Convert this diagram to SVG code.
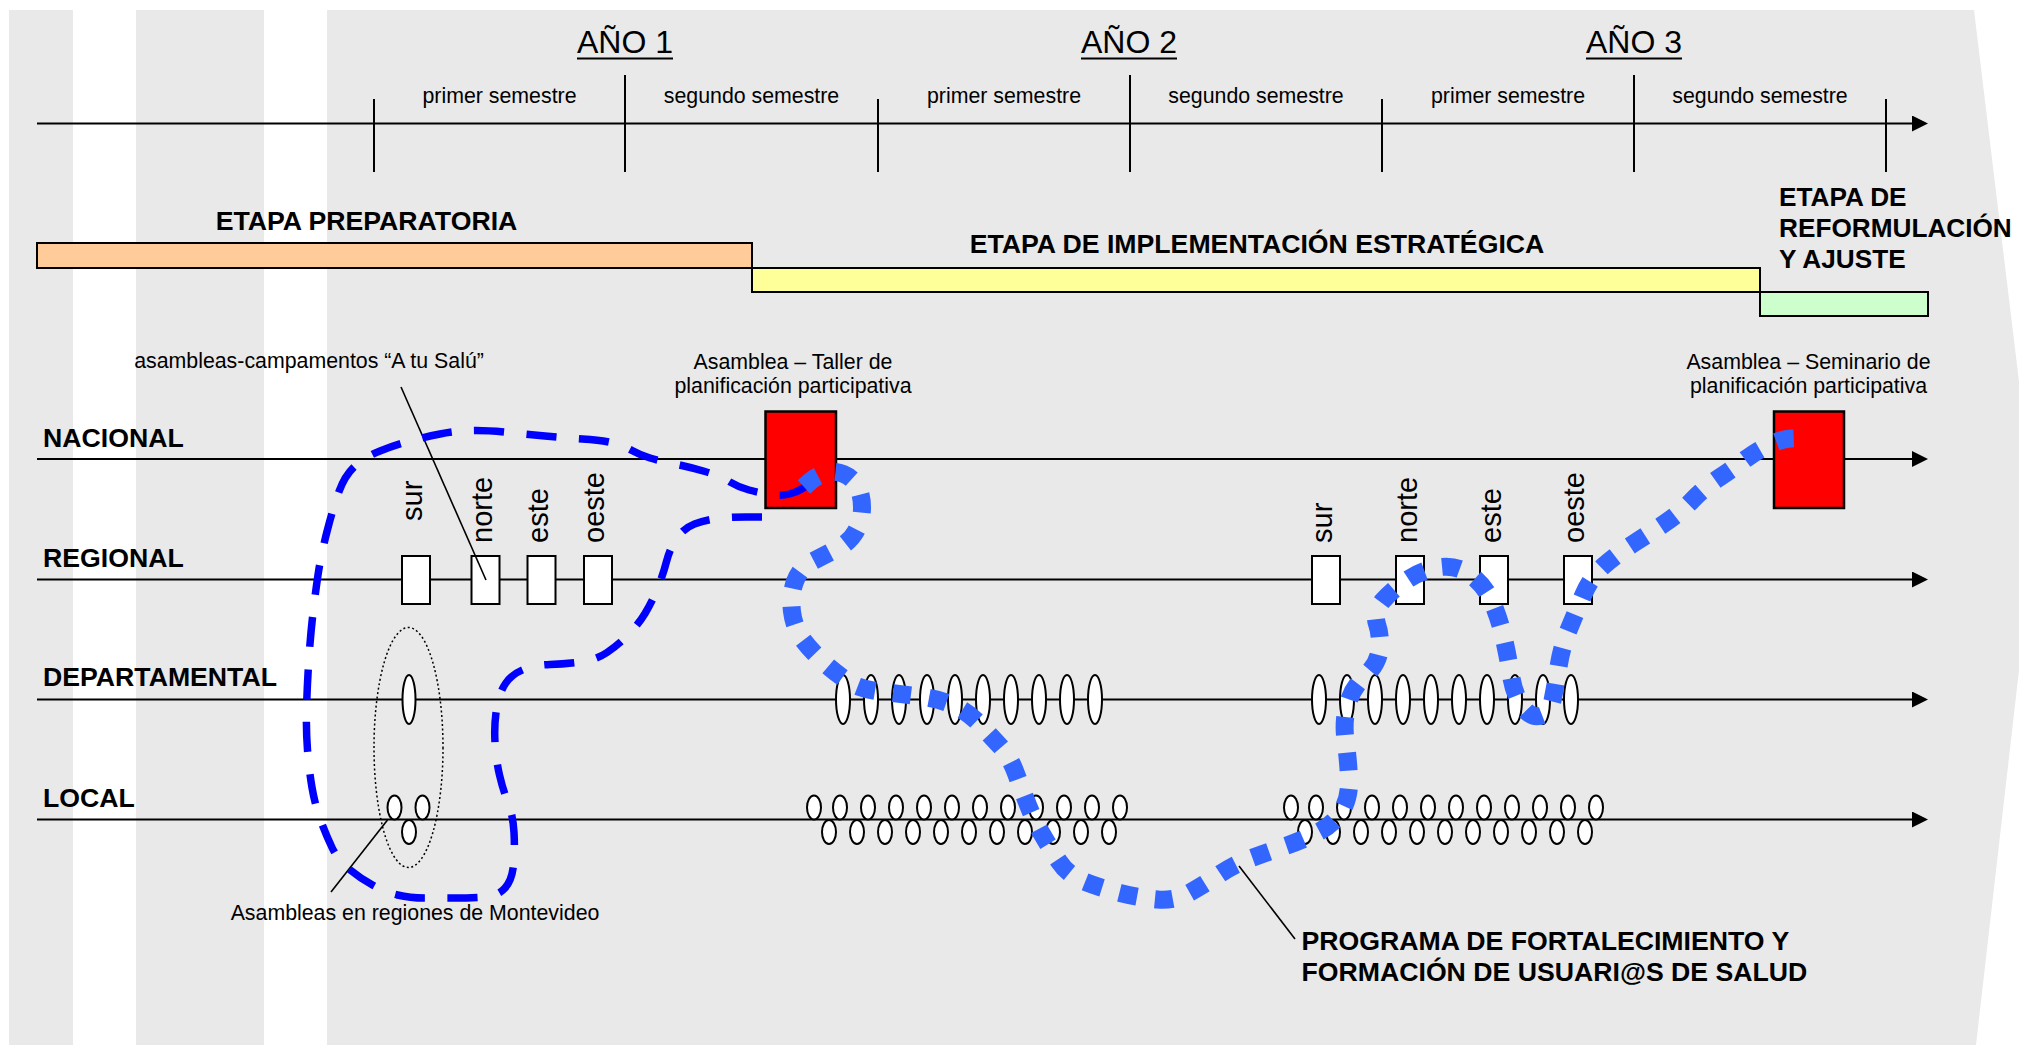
<svg xmlns="http://www.w3.org/2000/svg" width="2019" height="1045" viewBox="0 0 2019 1045">
<defs>
<marker id="arr" viewBox="0 0 16 16" markerWidth="16" markerHeight="16" refX="1" refY="8" orient="auto" markerUnits="userSpaceOnUse"><path d="M0,0 L16,8 L0,16 Z" fill="#000"/></marker>
</defs>
<style>
text{font-family:"Liberation Sans",Arial,sans-serif;fill:#000}
.reg{font-size:21.33px}
.yr{font-size:32px}
.b{font-size:26.67px;font-weight:bold}
.rot{font-size:29px}
.ax{stroke:#000;stroke-width:2.2;fill:none}
.tick{stroke:#000;stroke-width:2}
.bar{stroke:#000;stroke-width:2}
.box{fill:#fff;stroke:#000;stroke-width:2}
.ell{fill:#fff;stroke:#000;stroke-width:2}
.red{fill:#FF0000;stroke:#000;stroke-width:2.5}
.lead{stroke:#000;stroke-width:1.6;fill:none}
.dk{fill:none;stroke:#0000FF;stroke-width:7.5;stroke-dasharray:30 22.5}
.lt{fill:none;stroke:#3366FF;stroke-width:18;stroke-dasharray:18 18}
</style>
<g id="background">
<polygon points="9,10 1974,10 2036,522 1976,1045 9,1045" fill="#E9E9E9"/>
<rect x="73" y="10" width="63" height="1035" fill="#fff"/>
<rect x="264" y="10" width="63" height="1035" fill="#fff"/>
</g>
<g id="timeline">
<line class="ax" x1="37" y1="123.5" x2="1913" y2="123.5" marker-end="url(#arr)"/>
<line class="tick" x1="374" y1="99" x2="374" y2="172"/>
<line class="tick" x1="625" y1="75" x2="625" y2="172"/>
<line class="tick" x1="878" y1="99" x2="878" y2="172"/>
<line class="tick" x1="1130" y1="75" x2="1130" y2="172"/>
<line class="tick" x1="1382" y1="99" x2="1382" y2="172"/>
<line class="tick" x1="1634" y1="75" x2="1634" y2="172"/>
<line class="tick" x1="1886" y1="99" x2="1886" y2="172"/>
<text class="yr" x="625" y="53" text-anchor="middle">AÑO 1</text>
<text class="yr" x="1129" y="53" text-anchor="middle">AÑO 2</text>
<text class="yr" x="1634" y="53" text-anchor="middle">AÑO 3</text>
<line class="tick" x1="577" y1="58.5" x2="673" y2="58.5" stroke-width="2.5"/>
<line class="tick" x1="1081" y1="58.5" x2="1177" y2="58.5" stroke-width="2.5"/>
<line class="tick" x1="1586" y1="58.5" x2="1682" y2="58.5" stroke-width="2.5"/>
<text class="reg" x="499.5" y="103" text-anchor="middle">primer semestre</text>
<text class="reg" x="751.5" y="103" text-anchor="middle">segundo semestre</text>
<text class="reg" x="1004" y="103" text-anchor="middle">primer semestre</text>
<text class="reg" x="1256" y="103" text-anchor="middle">segundo semestre</text>
<text class="reg" x="1508" y="103" text-anchor="middle">primer semestre</text>
<text class="reg" x="1760" y="103" text-anchor="middle">segundo semestre</text>
</g>
<g id="etapa-preparatoria">
<rect class="bar" x="37" y="243" width="715" height="25" fill="#FFCC99"/>
<text class="b" x="366.5" y="230" text-anchor="middle">ETAPA PREPARATORIA</text>
</g>
<g id="etapa-implementacion">
<rect class="bar" x="752" y="268" width="1008" height="24" fill="#FFFF99"/>
<text class="b" x="1257" y="252.5" text-anchor="middle">ETAPA DE IMPLEMENTACIÓN ESTRATÉGICA</text>
</g>
<g id="etapa-reformulacion">
<rect class="bar" x="1760" y="292" width="168" height="24" fill="#CCFFCC"/>
<text class="b" x="1779" y="205.5" style="font-size:26.2px">ETAPA DE</text>
<text class="b" x="1779" y="236.5" style="font-size:26.2px">REFORMULACIÓN</text>
<text class="b" x="1779" y="268" style="font-size:26.2px">Y AJUSTE</text>
</g>
<g id="levels">
<line class="ax" x1="37" y1="459" x2="1913" y2="459" marker-end="url(#arr)"/>
<line class="ax" x1="37" y1="579.5" x2="1913" y2="579.5" marker-end="url(#arr)"/>
<line class="ax" x1="37" y1="699.5" x2="1913" y2="699.5" marker-end="url(#arr)"/>
<line class="ax" x1="37" y1="819.5" x2="1913" y2="819.5" marker-end="url(#arr)"/>
<text class="b" x="43" y="447">NACIONAL</text>
<text class="b" x="43" y="567">REGIONAL</text>
<text class="b" x="43" y="686">DEPARTAMENTAL</text>
<text class="b" x="43" y="807">LOCAL</text>
</g>
<g id="regional-year1">
<rect class="box" x="402" y="556" width="28" height="48"/>
<rect class="box" x="471.5" y="556" width="28" height="48"/>
<rect class="box" x="527.5" y="556" width="28" height="48"/>
<rect class="box" x="584" y="556" width="28" height="48"/>
<text class="rot" transform="translate(422,521) rotate(-90)">sur</text>
<text class="rot" transform="translate(492,543) rotate(-90)">norte</text>
<text class="rot" transform="translate(547.5,543) rotate(-90)">este</text>
<text class="rot" transform="translate(604,543) rotate(-90)">oeste</text>
</g>
<g id="regional-year3">
<rect class="box" x="1312" y="556" width="28" height="48"/>
<rect class="box" x="1396" y="556" width="28" height="48"/>
<rect class="box" x="1480" y="556" width="28" height="48"/>
<rect class="box" x="1564" y="556" width="28" height="48"/>
<text class="rot" transform="translate(1332,543) rotate(-90)">sur</text>
<text class="rot" transform="translate(1416.5,543) rotate(-90)">norte</text>
<text class="rot" transform="translate(1500.5,543) rotate(-90)">este</text>
<text class="rot" transform="translate(1584,543) rotate(-90)">oeste</text>
</g>
<g id="montevideo">
<ellipse cx="408.5" cy="747.5" rx="34.5" ry="120" fill="none" stroke="#000" stroke-width="1.5" stroke-dasharray="2 2.5"/>
<ellipse class="ell" cx="409" cy="699.5" rx="6.5" ry="24.5"/>
<ellipse class="ell" cx="394.5" cy="807.5" rx="7" ry="12"/>
<ellipse class="ell" cx="422.5" cy="807.5" rx="7" ry="12"/>
<ellipse class="ell" cx="409" cy="832" rx="7" ry="12"/>
</g>
<g id="departamental-year2">
<ellipse class="ell" cx="843" cy="699.5" rx="7" ry="24.5"/>
<ellipse class="ell" cx="871" cy="699.5" rx="7" ry="24.5"/>
<ellipse class="ell" cx="899" cy="699.5" rx="7" ry="24.5"/>
<ellipse class="ell" cx="927" cy="699.5" rx="7" ry="24.5"/>
<ellipse class="ell" cx="955" cy="699.5" rx="7" ry="24.5"/>
<ellipse class="ell" cx="983" cy="699.5" rx="7" ry="24.5"/>
<ellipse class="ell" cx="1011" cy="699.5" rx="7" ry="24.5"/>
<ellipse class="ell" cx="1039" cy="699.5" rx="7" ry="24.5"/>
<ellipse class="ell" cx="1067" cy="699.5" rx="7" ry="24.5"/>
<ellipse class="ell" cx="1095" cy="699.5" rx="7" ry="24.5"/>
</g>
<g id="departamental-year3">
<ellipse class="ell" cx="1319" cy="699.5" rx="7" ry="24.5"/>
<ellipse class="ell" cx="1347" cy="699.5" rx="7" ry="24.5"/>
<ellipse class="ell" cx="1375" cy="699.5" rx="7" ry="24.5"/>
<ellipse class="ell" cx="1403" cy="699.5" rx="7" ry="24.5"/>
<ellipse class="ell" cx="1431" cy="699.5" rx="7" ry="24.5"/>
<ellipse class="ell" cx="1459" cy="699.5" rx="7" ry="24.5"/>
<ellipse class="ell" cx="1487" cy="699.5" rx="7" ry="24.5"/>
<ellipse class="ell" cx="1515" cy="699.5" rx="7" ry="24.5"/>
<ellipse class="ell" cx="1543" cy="699.5" rx="7" ry="24.5"/>
<ellipse class="ell" cx="1571" cy="699.5" rx="7" ry="24.5"/>
</g>
<g id="local-year2">
<ellipse class="ell" cx="814" cy="807.5" rx="7" ry="12"/>
<ellipse class="ell" cx="840" cy="807.5" rx="7" ry="12"/>
<ellipse class="ell" cx="868" cy="807.5" rx="7" ry="12"/>
<ellipse class="ell" cx="896" cy="807.5" rx="7" ry="12"/>
<ellipse class="ell" cx="924" cy="807.5" rx="7" ry="12"/>
<ellipse class="ell" cx="952" cy="807.5" rx="7" ry="12"/>
<ellipse class="ell" cx="980" cy="807.5" rx="7" ry="12"/>
<ellipse class="ell" cx="1008" cy="807.5" rx="7" ry="12"/>
<ellipse class="ell" cx="1036" cy="807.5" rx="7" ry="12"/>
<ellipse class="ell" cx="1064" cy="807.5" rx="7" ry="12"/>
<ellipse class="ell" cx="1092" cy="807.5" rx="7" ry="12"/>
<ellipse class="ell" cx="1120" cy="807.5" rx="7" ry="12"/>
<ellipse class="ell" cx="829" cy="832" rx="7" ry="12"/>
<ellipse class="ell" cx="857" cy="832" rx="7" ry="12"/>
<ellipse class="ell" cx="885" cy="832" rx="7" ry="12"/>
<ellipse class="ell" cx="913" cy="832" rx="7" ry="12"/>
<ellipse class="ell" cx="941" cy="832" rx="7" ry="12"/>
<ellipse class="ell" cx="969" cy="832" rx="7" ry="12"/>
<ellipse class="ell" cx="997" cy="832" rx="7" ry="12"/>
<ellipse class="ell" cx="1025" cy="832" rx="7" ry="12"/>
<ellipse class="ell" cx="1053" cy="832" rx="7" ry="12"/>
<ellipse class="ell" cx="1081" cy="832" rx="7" ry="12"/>
<ellipse class="ell" cx="1109" cy="832" rx="7" ry="12"/>
</g>
<g id="local-year3">
<ellipse class="ell" cx="1291" cy="807.5" rx="7" ry="12"/>
<ellipse class="ell" cx="1316" cy="807.5" rx="7" ry="12"/>
<ellipse class="ell" cx="1344" cy="807.5" rx="7" ry="12"/>
<ellipse class="ell" cx="1372" cy="807.5" rx="7" ry="12"/>
<ellipse class="ell" cx="1400" cy="807.5" rx="7" ry="12"/>
<ellipse class="ell" cx="1428" cy="807.5" rx="7" ry="12"/>
<ellipse class="ell" cx="1456" cy="807.5" rx="7" ry="12"/>
<ellipse class="ell" cx="1484" cy="807.5" rx="7" ry="12"/>
<ellipse class="ell" cx="1512" cy="807.5" rx="7" ry="12"/>
<ellipse class="ell" cx="1540" cy="807.5" rx="7" ry="12"/>
<ellipse class="ell" cx="1568" cy="807.5" rx="7" ry="12"/>
<ellipse class="ell" cx="1596" cy="807.5" rx="7" ry="12"/>
<ellipse class="ell" cx="1305" cy="832" rx="7" ry="12"/>
<ellipse class="ell" cx="1333" cy="832" rx="7" ry="12"/>
<ellipse class="ell" cx="1361" cy="832" rx="7" ry="12"/>
<ellipse class="ell" cx="1389" cy="832" rx="7" ry="12"/>
<ellipse class="ell" cx="1417" cy="832" rx="7" ry="12"/>
<ellipse class="ell" cx="1445" cy="832" rx="7" ry="12"/>
<ellipse class="ell" cx="1473" cy="832" rx="7" ry="12"/>
<ellipse class="ell" cx="1501" cy="832" rx="7" ry="12"/>
<ellipse class="ell" cx="1529" cy="832" rx="7" ry="12"/>
<ellipse class="ell" cx="1557" cy="832" rx="7" ry="12"/>
<ellipse class="ell" cx="1585" cy="832" rx="7" ry="12"/>
</g>
<g id="asamblea-taller">
<rect class="red" x="765.5" y="411.5" width="70.5" height="96.5"/>
<text class="reg" x="793" y="369" text-anchor="middle">Asamblea – Taller de</text>
<text class="reg" x="793" y="393" text-anchor="middle">planificación participativa</text>
</g>
<g id="asamblea-seminario">
<rect class="red" x="1774" y="411.5" width="70" height="96.5"/>
<text class="reg" x="1808.5" y="369" text-anchor="middle">Asamblea – Seminario de</text>
<text class="reg" x="1808.5" y="393" text-anchor="middle">planificación participativa</text>
</g>
<g id="labels">
<text class="reg" x="309" y="368" text-anchor="middle">asambleas-campamentos “A tu Salú”</text>
<text class="reg" x="415" y="920" text-anchor="middle">Asambleas en regiones de Montevideo</text>
<text class="b" x="1301.5" y="950">PROGRAMA DE FORTALECIMIENTO Y</text>
<text class="b" x="1301.5" y="981">FORMACIÓN DE USUARI@S DE SALUD</text>
</g>
<g id="connectors">
<line class="lead" x1="401" y1="387" x2="486" y2="580"/>
<line class="lead" x1="331" y1="892" x2="387.5" y2="820"/>
<line class="lead" x1="1239" y1="866" x2="1295" y2="939"/>
<path class="dk" d="M762,517 L746,517 Q730,517 717.5,518.5 Q705,520 694.5,524 Q684,528 677,538 Q670,548 666.5,561.5 Q663,575 657.5,588.5 Q652,602 645,613.5 Q638,625 628,635 Q618,645 607,652.5 Q596,660 580.5,662 Q565,664 550,664.5 Q535,665 523.5,669.5 Q512,674 505.5,683.5 Q499,693 496.5,709 Q494,725 495,742.5 Q496,760 499.5,775 Q503,790 508,802.5 Q513,815 514,832.5 Q515,850 513.5,865 Q512,880 505,888 Q498,896 484,897 Q470,898 455,898 Q440,898 425,898 Q410,898 397.5,895 Q385,892 372.5,885 Q360,878 349,869 Q338,860 332,847.5 Q326,835 320.5,820 Q315,805 312,787.5 Q309,770 307.5,750 Q306,730 306.5,710 Q307,690 308.5,665 Q310,640 312.5,617.5 Q315,595 318,575 Q321,555 327,531.5 Q333,508 339,491.5 Q345,475 355,466 Q365,457 380,451 Q395,445 410,441 Q425,437 440,434 Q455,431 470,430.5 Q485,430 505,432 Q525,434 545,436 Q565,438 582.5,439 Q600,440 611,442.5 Q622,445 631,450 Q640,455 650,458 Q660,461 675,464 Q690,467 705,471.5 Q720,476 729,481.5 Q738,487 749,490 Q760,493 771,494.5 Q782,496 789.5,494 Q797,492 802.5,488.5 L808,485"/>
<path class="lt" d="M804,487 L810,481.5 Q816,476 825,473 Q834,470 843.5,474 Q853,478 857.5,486.5 Q862,495 862,507.5 Q862,520 856,531 Q850,542 837.5,548.5 Q825,555 812.5,561.5 Q800,568 795,581.5 Q790,595 792,611.5 Q794,628 803,640 Q812,652 825,663.5 Q838,675 849,682 Q860,689 880,691.5 Q900,694 920,696.5 Q940,699 954,705.5 Q968,712 979,723.5 Q990,735 1000,746 Q1010,757 1016,773.5 Q1022,790 1028,805 Q1034,820 1042,834 Q1050,848 1059,861.5 Q1068,875 1084,881.5 Q1100,888 1120,893 Q1140,898 1157.5,899.5 Q1175,901 1190,892.5 Q1205,884 1220,874 Q1235,864 1251.5,858 Q1268,852 1285.5,846 Q1303,840 1318.5,832 Q1334,824 1342,810.5 Q1350,797 1349,777.5 Q1348,758 1345.5,740 Q1343,722 1347.5,705 Q1352,688 1365,676 Q1378,664 1379.5,650 Q1381,636 1377,624 Q1373,612 1383,600.5 Q1393,589 1408.5,579 Q1424,569 1441,567 Q1458,565 1472,576 Q1486,587 1493,604 Q1500,621 1504,639 Q1508,657 1511,675.5 Q1514,694 1522,706 Q1530,718 1540,716 Q1550,714 1553,698 Q1556,682 1559,664 Q1562,646 1569,629 Q1576,612 1583.5,594.5 Q1591,577 1604,565.5 Q1617,554 1633.5,543.5 Q1650,533 1665,523 Q1680,513 1692,500.5 Q1704,488 1719.5,477.5 Q1735,467 1746.5,458.5 Q1758,450 1770,444.5 Q1782,439 1791,438.5 L1802,438"/>
</g>
</svg>
